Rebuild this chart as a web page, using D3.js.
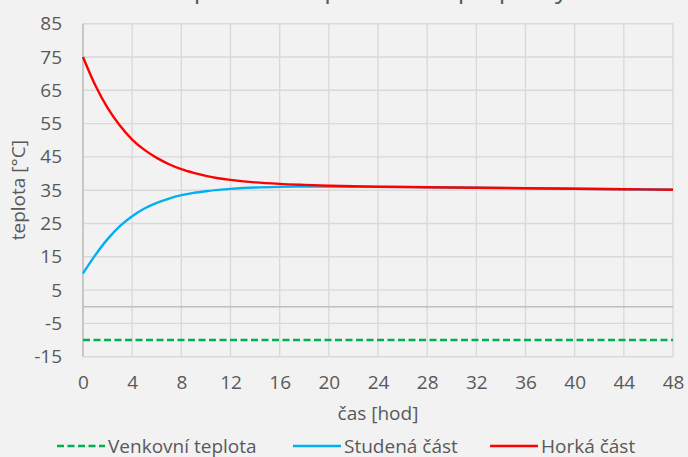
<!DOCTYPE html>
<html>
<head>
<meta charset="utf-8">
<script src="https://cdn.jsdelivr.net/npm/d3@7/dist/d3.min.js"></script>
<style>
  html, body { margin: 0; padding: 0; background: #f2f2f2; }
  svg { display: block; font-family: "Open Sans", "Noto Sans", sans-serif; }
</style>
</head>
<body>
<svg id="chart" width="688" height="457"></svg>
<script>
// ---- data ----
const title = "Teplota částí po zrušení přepážky";
const hours = [0,1,2,3,4,5,6,7,8,9,10,11,12,14,16,18,20,22,24,28,32,36,40,44,48];
const hotPart  = [75,66.5,59.7,54.4,50.2,47.1,44.7,42.8,41.3,40.2,39.3,38.6,38.1,37.35,36.9,36.6,36.35,36.2,36.05,35.9,35.75,35.6,35.45,35.3,35.15];
const coldPart = [10,15.5,20.3,24.2,27.2,29.5,31.2,32.5,33.5,34.2,34.7,35.1,35.4,35.8,36.0,36.1,36.1,36.05,36.0,35.88,35.74,35.59,35.44,35.29,35.14];
const outdoorHours = [0,48];
const outdoor = [-10,-10];
const xTicks = [0,4,8,12,16,20,24,28,32,36,40,44,48];
const yTicks = [-15,-5,5,15,25,35,45,55,65,75,85];
const seriesNames = ["Venkovní teplota","Studená část","Horká část"];
const xTitle = "čas [hod]";
const yTitle = "teplota [°C]";

// ---- layout ----
const svg = d3.select("#chart");
const L = 83, R = 673, T = 23.7, B = 356.7;
const x = d3.scaleLinear().domain([0,48]).range([L,R]);
const y = d3.scaleLinear().domain([-15,85]).range([B,T]);
const labelColor = "#595959";
const fs = 19;

// title (mostly above the visible frame, only descenders show)
svg.append("text").attr("x", 568).attr("y", -2).attr("text-anchor","end")
  .attr("font-size", 26).attr("fill", labelColor).text(title);

// gridlines
const grid = svg.append("g");
grid.selectAll("line.h").data(yTicks).join("line")
  .attr("x1", L).attr("x2", R).attr("y1", d=>y(d)).attr("y2", d=>y(d))
  .attr("stroke", "#d9d9d9").attr("stroke-width", 1.4);
grid.selectAll("line.v").data(xTicks).join("line")
  .attr("y1", T).attr("y2", B).attr("x1", d=>x(d)).attr("x2", d=>x(d))
  .attr("stroke", "#d9d9d9").attr("stroke-width", 1.4);

// zero line & left axis
svg.append("line").attr("x1", L).attr("x2", R).attr("y1", y(0)).attr("y2", y(0))
  .attr("stroke", "#bfbfbf").attr("stroke-width", 1.5);
svg.append("line").attr("x1", L).attr("x2", L).attr("y1", T).attr("y2", B)
  .attr("stroke", "#bfbfbf").attr("stroke-width", 1.5);

// axes labels via d3 axes
const fmt = d => String(d);
const xAxis = svg.append("g").attr("transform", `translate(0,${B})`)
  .call(d3.axisBottom(x).tickValues(xTicks).tickSize(0).tickPadding(19).tickFormat(fmt));
const yAxis = svg.append("g").attr("transform", `translate(${L},0)`)
  .call(d3.axisLeft(y).tickValues(yTicks).tickSize(0).tickPadding(21).tickFormat(fmt));
[xAxis, yAxis].forEach(a => {
  a.select(".domain").remove();
  a.selectAll("text").attr("font-size", fs).attr("fill", labelColor)
    .attr("font-family", '"Open Sans", "Noto Sans", sans-serif');
});

// axis titles
svg.append("text").attr("x", (L+R)/2).attr("y", 420).attr("text-anchor","middle")
  .attr("font-size", fs).attr("fill", labelColor).text(xTitle);
svg.append("text").attr("transform", `translate(25,${(T+B)/2}) rotate(-90)`)
  .attr("text-anchor","middle").attr("font-size", fs).attr("fill", labelColor).text(yTitle);

// series
const line = d3.line().x(d=>x(d[0])).y(d=>y(d[1])).curve(d3.curveCatmullRom.alpha(0.5));
svg.append("path").datum(outdoorHours.map((h,i)=>[h,outdoor[i]]))
  .attr("d", line).attr("fill","none").attr("stroke","#00b050")
  .attr("stroke-width",2.4).attr("stroke-dasharray","7,3.5");
svg.append("path").datum(hours.map((h,i)=>[h,coldPart[i]]))
  .attr("d", line).attr("fill","none").attr("stroke","#00b0f0").attr("stroke-width",2.4);
svg.append("path").datum(hours.map((h,i)=>[h,hotPart[i]]))
  .attr("d", line).attr("fill","none").attr("stroke","#ff0000").attr("stroke-width",2.4);

// legend
const legend = [
  {name: seriesNames[0], color:"#00b050", dash:"7,3.5", x0:57},
  {name: seriesNames[1], color:"#00b0f0", dash:null, x0:293},
  {name: seriesNames[2], color:"#ff0000", dash:null, x0:490}
];
const lg = svg.append("g");
legend.forEach(d => {
  lg.append("line").attr("x1", d.x0).attr("x2", d.x0+48).attr("y1", 446).attr("y2", 446)
    .attr("stroke", d.color).attr("stroke-width", 2.4)
    .attr("stroke-dasharray", d.dash);
  lg.append("text").attr("x", d.x0+51).attr("y", 452.5).attr("font-size", fs)
    .attr("fill", labelColor).text(d.name);
});
</script>
</body>
</html>
